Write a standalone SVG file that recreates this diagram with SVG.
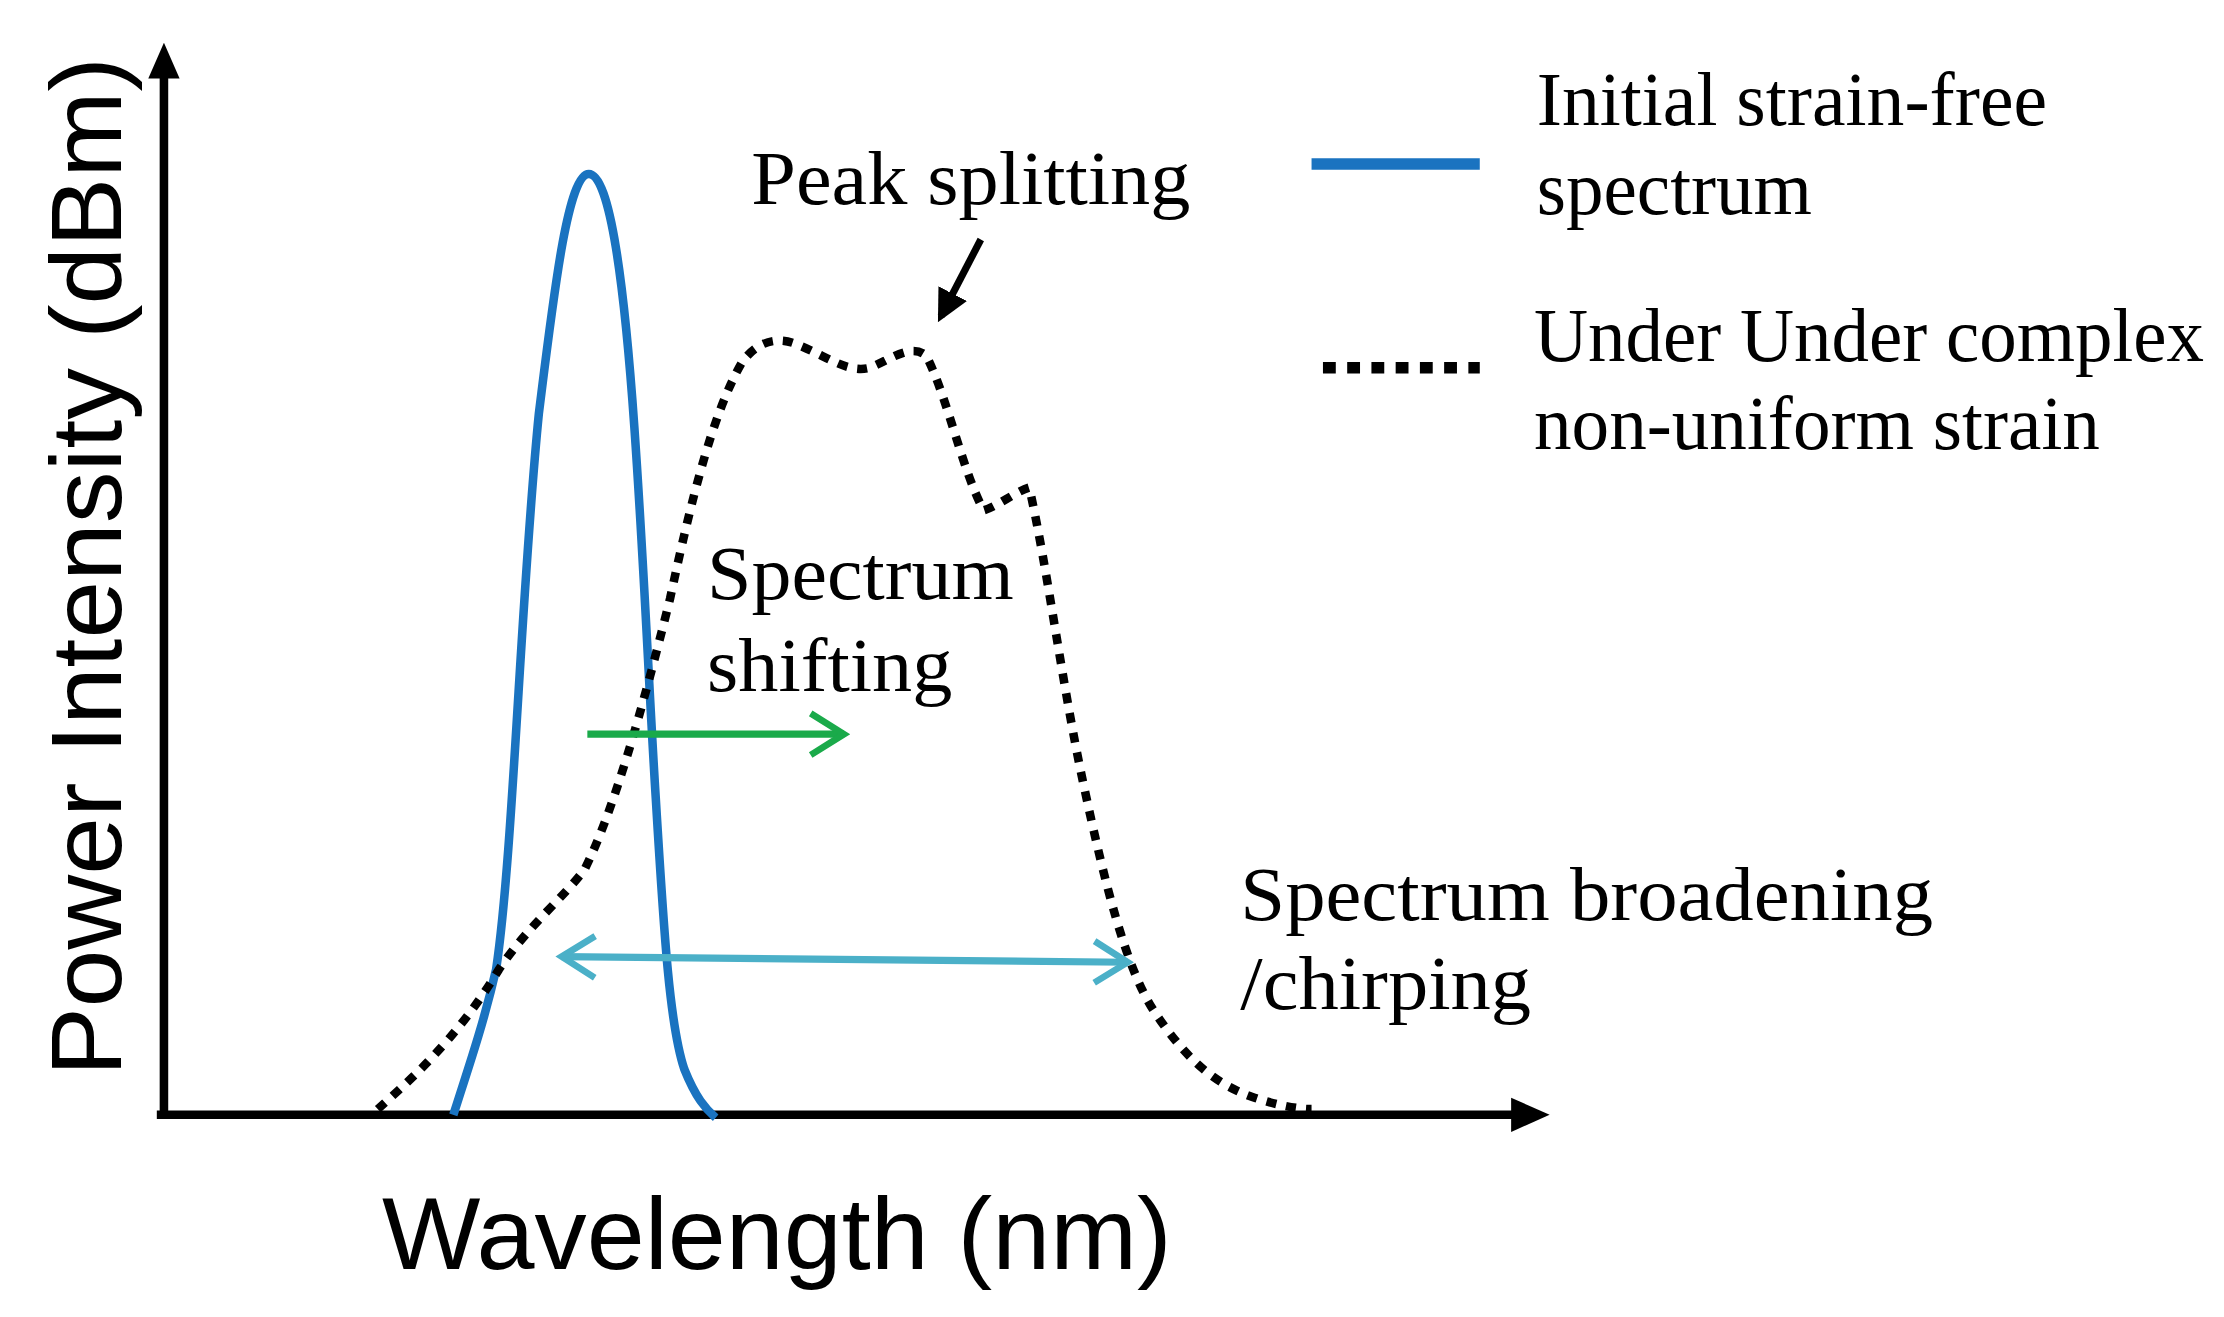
<svg xmlns="http://www.w3.org/2000/svg" width="2224" height="1317" viewBox="0 0 2224 1317">
<style>
.t{font-family:"Liberation Serif","Times New Roman",serif;font-size:54px;fill:#000}
.a{font-family:"Liberation Sans",Arial,sans-serif;fill:#000}
</style>
<defs>
<marker id="ah" viewBox="0 0 10 10" refX="8" refY="5" markerWidth="4.5" markerHeight="4.5" orient="auto"><path d="M0,0 L10,5 L0,10 z" fill="#000"/></marker>
<marker id="ga" viewBox="0 0 12 12" refX="10" refY="6" markerWidth="7" markerHeight="7" orient="auto"><path d="M2,1 L10,6 L2,11" fill="none" stroke="#1aaa4a" stroke-width="1.6"/></marker>
<marker id="ca" viewBox="0 0 12 12" refX="10" refY="6" markerWidth="7" markerHeight="7" orient="auto-start-reverse"><path d="M2,1 L10,6 L2,11" fill="none" stroke="#4bb0c8" stroke-width="1.6"/></marker>
</defs>
<rect width="2224" height="1317" fill="#fff"/>
<g transform="scale(1.4256)">
<g id="axes">
<line x1="115" y1="784" x2="115" y2="50" stroke="#000" stroke-width="6"/>
<path d="M115,30 L104,55 L126,55 z" fill="#000"/>
<line x1="110" y1="782" x2="1065" y2="782" stroke="#000" stroke-width="6"/>
<path d="M1087,782 L1060,770 L1060,794 z" fill="#000"/>
</g>
<g id="curves">
<path d="M318,782 C330,745 340,715 348,680 C360,600 365,420 378,290 C388,210 398,122 413,122 C428,122 438,200 445,300 C452,400 455,480 460,560 C466,660 470,720 480,750 C488,770 495,778 502,784" fill="none" stroke="#1a73c0" stroke-width="6"/>
<path d="M265,778 C285,760 320,730 350,680 C370,650 395,630 410,610 C430,570 450,500 470,420 C485,350 500,290 520,255 C530,240 545,235 560,242 C580,250 595,262 610,258 C625,252 640,240 650,250 C665,280 675,330 690,358 C700,355 712,345 722,342 C735,400 745,480 760,550 C775,620 790,680 810,710 C830,740 850,760 880,770 C895,775 910,778 920,778" fill="none" stroke="#000" stroke-width="6" stroke-dasharray="7,7"/>
</g>
<g id="connectors">
<line x1="688" y1="168" x2="660" y2="222" stroke="#000" stroke-width="5" marker-end="url(#ah)"/>
<line x1="412" y1="515" x2="592" y2="515" stroke="#1aaa4a" stroke-width="5" marker-end="url(#ga)"/>
<line x1="394" y1="671" x2="791" y2="675" stroke="#4bb0c8" stroke-width="5" marker-start="url(#ca)" marker-end="url(#ca)"/>
</g>
<g id="legend">
<line x1="920" y1="115" x2="1038" y2="115" stroke="#1a73c0" stroke-width="8"/>
<line x1="928" y1="258" x2="1038" y2="258" stroke="#000" stroke-width="8" stroke-dasharray="9,8"/>
<text class="t" x="1078" y="88" textLength="358" lengthAdjust="spacingAndGlyphs">Initial strain-free</text>
<text class="t" x="1078" y="150" textLength="193" lengthAdjust="spacingAndGlyphs">spectrum</text>
<text class="t" x="1076" y="253" textLength="470" lengthAdjust="spacingAndGlyphs">Under Under complex</text>
<text class="t" x="1076" y="315" textLength="397" lengthAdjust="spacingAndGlyphs">non-uniform strain</text>
</g>
<g id="labels">
<text class="t" x="527" y="143" textLength="308" lengthAdjust="spacingAndGlyphs">Peak splitting</text>
<text class="t" x="496" y="420" textLength="215" lengthAdjust="spacingAndGlyphs">Spectrum</text>
<text class="t" x="496" y="485" textLength="172" lengthAdjust="spacingAndGlyphs">shifting</text>
<text class="t" x="870" y="645" textLength="486" lengthAdjust="spacingAndGlyphs">Spectrum broadening</text>
<text class="t" x="870" y="708" textLength="204" lengthAdjust="spacingAndGlyphs">/chirping</text>
<text class="a" x="268" y="890" font-size="72" textLength="554" lengthAdjust="spacingAndGlyphs">Wavelength (nm)</text>
<text class="a" transform="translate(85,755) rotate(-90)" font-size="70" textLength="715" lengthAdjust="spacingAndGlyphs">Power Intensity (dBm)</text>
</g>
</g>
</svg>
